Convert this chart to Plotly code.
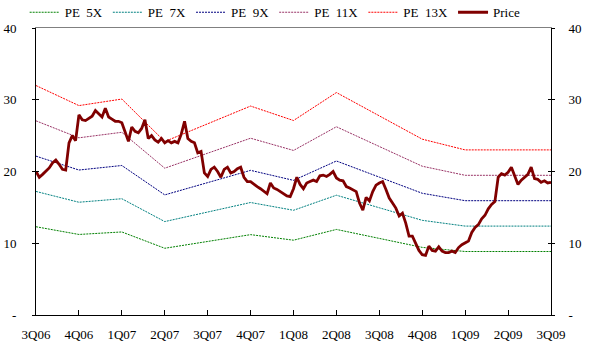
import numpy as np
import plotly.graph_objects as go

quarters = ['3Q06', '4Q06', '1Q07', '2Q07', '3Q07', '4Q07', '1Q08',
            '2Q08', '3Q08', '4Q08', '1Q09', '2Q09', '3Q09']

# quarterly EPS implied by the PE bands
eps = [2.46, 2.245, 2.315, 1.86, 2.05, 2.24, 2.085, 2.385, 2.135, 1.885, 1.77, 1.77, 1.77]

pe_multiples = [5, 7, 9, 11, 13]
pe_names = ['PE\u00a0\u00a05X', 'PE\u00a0\u00a07X', 'PE\u00a0\u00a09X', 'PE\u00a0\u00a011X', 'PE\u00a0\u00a013X']
pe_colors = ['#008000', '#008080', '#000080', '#993366', '#FF0000']

# weekly share price, 3Q06 -> 3Q09
price = [
    20.0, 19.2, 19.6, 20.1, 20.5, 21.2, 21.6, 21.0, 20.3, 20.2, 24.0, 25.0, 24.3,
    27.9, 27.2, 27.1, 27.4, 27.7, 28.5, 28.0, 27.6, 28.8, 27.6, 27.3, 27.0, 27.0,
    26.8, 25.5, 24.2, 26.2, 25.6, 25.4, 26.0, 27.2, 24.6, 25.0, 24.4, 24.1, 24.6,
    24.0, 24.3, 24.0, 24.2, 24.0, 25.2, 27.0, 24.6, 24.2, 24.0, 22.6, 22.8, 19.8,
    19.3, 20.3, 20.6, 20.0, 19.2, 20.3, 20.6, 19.8, 20.0, 20.4, 20.6, 19.2, 18.6,
    18.6, 18.2, 17.9, 17.6, 17.2, 16.9, 18.4, 17.7, 17.5, 17.2, 16.9, 16.6, 16.5,
    17.6, 19.2, 18.2, 17.6, 18.4, 18.6, 18.8, 18.6, 19.4, 19.5, 19.3, 19.6, 20.0,
    19.1, 18.8, 18.7, 17.9, 17.7, 17.4, 17.2, 15.6, 14.6, 16.4, 15.9, 17.2, 18.1,
    18.4, 18.6, 17.5, 16.3, 15.6, 14.9, 13.8, 14.2, 12.8, 11.0, 11.0, 10.0, 9.0,
    8.4, 8.3, 9.6, 9.0, 8.9, 9.5, 8.9, 8.7, 8.7, 8.9, 8.7, 9.4, 9.8,
    10.0, 10.3, 11.5, 12.2, 12.6, 13.4, 13.9, 14.8, 15.4, 15.8, 19.2, 19.7, 19.5,
    19.9, 20.6, 19.5, 18.2, 18.8, 19.2, 19.6, 20.6, 19.0, 18.9, 18.5, 18.7, 18.4,
    18.5,
]

y_ticks = [0, 10, 20, 30, 40]
y_labels = ['-', '10', '20', '30', '40']

qx = list(range(len(quarters)))
px = np.linspace(0, len(quarters) - 1, len(price))

FONT = 'Liberation Serif'

fig = go.Figure()
for m, name, col in zip(pe_multiples, pe_names, pe_colors):
    fig.add_trace(go.Scatter(x=qx, y=[m * e for e in eps], mode='lines', name=name,
                             line=dict(color=col, width=1, dash='2px,1px')))
fig.add_trace(go.Scatter(x=px, y=price, mode='lines', name='Price',
                         line=dict(color='#800000', width=2.8)))

# helper traces to host the extra axes
fig.add_trace(go.Scatter(x=[None], y=[None], xaxis='x2', yaxis='y2', showlegend=False, hoverinfo='skip'))
fig.add_trace(go.Scatter(x=[None], y=[None], xaxis='x', yaxis='y3', showlegend=False, hoverinfo='skip'))
fig.add_trace(go.Scatter(x=[None], y=[None], xaxis='x', yaxis='y4', showlegend=False, hoverinfo='skip'))

yax_common = dict(range=[0, 40], tickvals=y_ticks, ticktext=y_labels, showgrid=False,
                  zeroline=False, tickfont=dict(family=FONT, size=13, color='black'))

fig.update_layout(
    width=590, height=353,
    margin=dict(l=36, r=39, t=28, b=38, autoexpand=False),
    paper_bgcolor='white', plot_bgcolor='white',
    font=dict(family=FONT, size=13, color='black'),
    showlegend=True,
    legend=dict(orientation='h', x=-0.022, xanchor='left', y=1.107, yanchor='top',
                font=dict(family=FONT, size=13, color='black'),
                bgcolor='rgba(0,0,0,0)', itemwidth=30, tracegroupgap=0),
    xaxis=dict(range=[0, 12], tickvals=qx, ticktext=quarters, showgrid=False, zeroline=False,
               showline=True, linecolor='black', linewidth=1, ticks='inside', ticklen=5,
               tickcolor='black', ticklabelstandoff=7,
               tickfont=dict(family=FONT, size=13, color='black')),
    xaxis2=dict(range=[0, 12], overlaying='x', side='top', showline=True, linecolor='#808080',
                linewidth=1, showticklabels=False, ticks='', showgrid=False, zeroline=False),
    yaxis=dict(**yax_common, side='left', showline=True, linecolor='black', linewidth=1,
               ticks='outside', ticklen=3, tickcolor='black', ticklabelstandoff=13),
    yaxis2=dict(**yax_common, overlaying='y', side='right', showline=True, linecolor='black',
                linewidth=1, ticks='outside', ticklen=3, tickcolor='black', ticklabelstandoff=11),
    yaxis3=dict(range=[0, 40], tickvals=y_ticks, overlaying='y', side='left', showline=False,
                showticklabels=False, ticks='inside', ticklen=3, tickcolor='black',
                showgrid=False, zeroline=False),
    yaxis4=dict(range=[0, 40], tickvals=y_ticks, overlaying='y', side='right', showline=False,
                showticklabels=False, ticks='inside', ticklen=3, tickcolor='black',
                showgrid=False, zeroline=False),
)

fig.write_html('out.html')
